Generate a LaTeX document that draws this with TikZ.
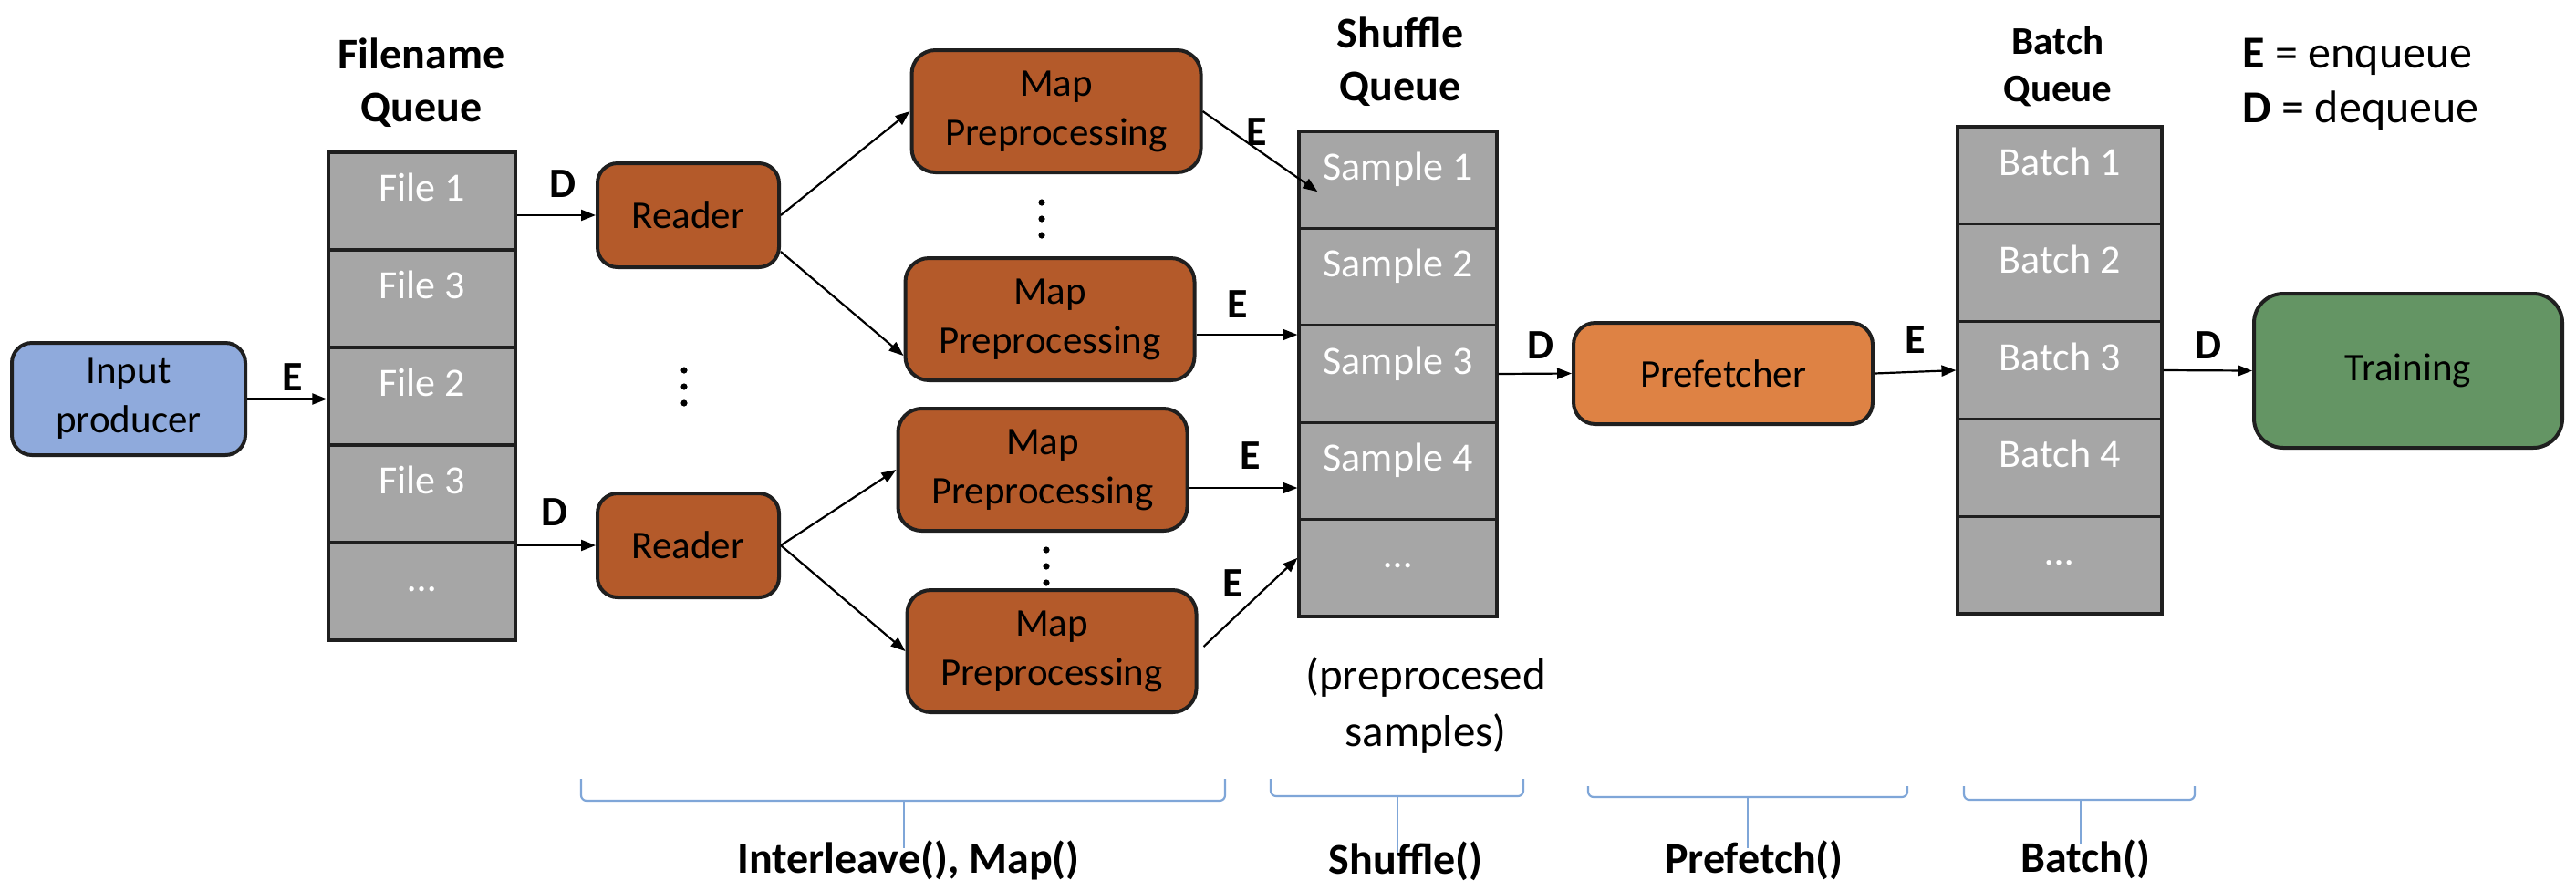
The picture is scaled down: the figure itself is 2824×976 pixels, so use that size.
\documentclass[tikz,border=0pt]{standalone}
\usepackage{fontspec}
\setmainfont{Carlito}
\usetikzlibrary{calc,arrows.meta}
\definecolor{inblue}{HTML}{8FAADC}
\definecolor{rbrown}{HTML}{B45A2A}
\definecolor{porange}{HTML}{DE8244}
\definecolor{tgreen}{HTML}{649564}
\definecolor{qgray}{HTML}{A6A6A6}
\definecolor{bblue}{HTML}{7FA6D8}
\definecolor{edgec}{HTML}{1F1F1F}
\begin{document}
\begin{tikzpicture}[x=0.25pt,y=-0.25pt,
  box/.style={draw=edgec, line width=1pt, rounded corners=5.5pt, align=center, inner sep=0pt, font=\fontsize{10.75}{13.5}\selectfont},
  inbox/.style={box, fill=inblue, minimum width=64pt, minimum height=30.75pt},
  readerbox/.style={box, fill=rbrown, minimum width=49.75pt, minimum height=28.5pt},
  mapbox/.style={box, fill=rbrown, minimum width=79.25pt, minimum height=33.5pt, rounded corners=6.5pt},
  prefbox/.style={box, fill=porange, minimum width=82pt, minimum height=27.75pt, rounded corners=6pt},
  trainbox/.style={box, fill=tgreen, minimum width=84.5pt, minimum height=42.25pt, rounded corners=8pt},
  qcell/.style={draw=edgec, line width=0.8pt, fill=qgray, inner sep=0pt},
  fqcell/.style={qcell, minimum width=51.25pt, minimum height=26.75pt},
  sqcell/.style={qcell, minimum width=54.25pt, minimum height=26.6pt},
  bqcell/.style={qcell, minimum width=56pt, minimum height=26.7pt},
  celltxt/.style={text=white, font=\fontsize{11}{13}\selectfont, inner sep=0pt, anchor=base},
  header/.style={font=\bfseries\fontsize{12}{14.5}\selectfont, align=center, inner sep=0pt},
  edlbl/.style={font=\bfseries\fontsize{11.5}{13}\selectfont, inner sep=0pt},
  legend/.style={font=\fontsize{12.5}{15}\selectfont, inner sep=0pt, anchor=base west},
  bottomlbl/.style={font=\bfseries\fontsize{12}{14}\selectfont, inner sep=0pt, anchor=base},
  arr/.style={draw=black, line width=0.55pt, -{Triangle[length=4pt,width=3pt]}},
  bracel/.style={draw=bblue, line width=0.55pt, rounded corners=1.5pt},
  vdot/.style={fill=black}
]
\fill[white] (0,0) rectangle (2824,976);
\useasboundingbox (0,0) rectangle (2824,976);

% input producer
\node[inbox] (in) at (141,437.5) {Input\\producer};

% filename queue
\node[header] (fqh) at (462,91) {Filename\\Queue};
\node[fqcell] (fq1) at (462.5,220.5) {};
\node[fqcell] (fq2) at (462.5,327.5) {};
\node[fqcell] (fq3) at (462.5,434.5) {};
\node[fqcell] (fq4) at (462.5,541.5) {};
\node[fqcell] (fq5) at (462.5,648.5) {};
\node[celltxt] (fqt1) at (fq1.center) {File 1};
\node[celltxt] (fqt2) at (fq2.center) {File 3};
\node[celltxt] (fqt3) at (fq3.center) {File 2};
\node[celltxt] (fqt4) at (fq4.center) {File 3};
\node[celltxt] (fqt5) at (fq5.center) {…};

% readers
\node[readerbox] (r1) at (754.5,236) {Reader};
\node[readerbox] (r2) at (754.5,598) {Reader};

% map boxes
\node[mapbox] (m1) at (1158,122) {Map\\Preprocessing};
\node[mapbox] (m2) at (1151,350) {Map\\Preprocessing};
\node[mapbox] (m3) at (1143,515) {Map\\Preprocessing};
\node[mapbox] (m4) at (1153,714) {Map\\Preprocessing};

% shuffle queue
\node[header] (sqh) at (1535,68) {Shuffle\\Queue};
\node[sqcell] (sq1) at (1532.5,197.2) {};
\node[sqcell] (sq2) at (1532.5,303.6) {};
\node[sqcell] (sq3) at (1532.5,410) {};
\node[sqcell] (sq4) at (1532.5,516.4) {};
\node[sqcell] (sq5) at (1532.5,622.8) {};
\node[celltxt] (sqt1) at (sq1.center) {Sample 1};
\node[celltxt] (sqt2) at (sq2.center) {Sample 2};
\node[celltxt] (sqt3) at (sq3.center) {Sample 3};
\node[celltxt] (sqt4) at (sq4.center) {Sample 4};
\node[celltxt] (sqt5) at (sq5.center) {…};
\node[font=\fontsize{12.25}{15.5}\selectfont, align=center, inner sep=0pt] (pre) at (1563,774) {(preprocesed\\samples)};

% prefetcher
\node[prefbox] (pf) at (1889,409.5) {Prefetcher};

% batch queue
\node[header, font=\bfseries\fontsize{10.75}{13}\selectfont] (bqh) at (2256,73.5) {Batch\\Queue};
\node[bqcell] (bq1) at (2258,192.4) {};
\node[bqcell] (bq2) at (2258,299.2) {};
\node[bqcell] (bq3) at (2258,406) {};
\node[bqcell] (bq4) at (2258,512.8) {};
\node[bqcell] (bq5) at (2258,619.6) {};
\node[celltxt] (bqt1) at (bq1.center) {Batch 1};
\node[celltxt] (bqt2) at (bq2.center) {Batch 2};
\node[celltxt] (bqt3) at (bq3.center) {Batch 3};
\node[celltxt] (bqt4) at (bq4.center) {Batch 4};
\node[celltxt] (bqt5) at (bq5.center) {…};

% training
\node[trainbox] (tr) at (2640,406.5) {Training};

% legend
\node[legend] (legE) at (2458,74) {\textbf{E} = enqueue};
\node[legend] (legD) at (2458,134) {\textbf{D} = dequeue};

% connectors
\draw[arr] (in.east) -- (in.east -| fq3.west);
\node[edlbl] (e0) at (321,414) {E};
\draw[arr] (r1.west -| fq1.east) -- (r1.west);
\node[edlbl] (d1) at (617,202) {D};
\draw[arr] (r2.west -| fq5.east) -- (r2.west);
\node[edlbl] (d2) at (608,562) {D};

\draw[arr] (r1.east) -- (m1.west);
\draw[arr] ($(r1.east)+(0,40)$) -- ($(m2.west)+(0,40)$);
\draw[arr] (r2.east) -- (m3.west);
\draw[arr] (r2.east) -- (m4.west);

\coordinate (sq1in) at ($(sq1.west)+(22,13)$);
\draw[arr] (m1.east) -- (sq1in);
\node[edlbl] (e1) at (1378,145) {E};
\coordinate (m2out) at ($(m2.east)+(0,17)$);
\draw[arr] (m2out) -- (m2out -| sq3.west);
\node[edlbl] (e2) at (1357,334) {E};
\coordinate (m3out) at ($(m3.east)+(0,20)$);
\draw[arr] (m3out) -- (m3out -| sq4.west);
\node[edlbl] (e3) at (1371,500) {E};
\coordinate (m4out) at ($(m4.east)+(6,-5)$);
\coordinate (sq5in) at ($(sq5.west)+(0,-11)$);
\draw[arr] (m4out) -- (sq5in);
\node[edlbl] (e4) at (1352,640) {E};

\draw[arr] (sq3.east) -- (pf.west);
\node[edlbl] (d3) at (1689,379) {D};
\draw[arr] (pf.east) -- (bq3.west);
\node[edlbl] (e5) at (2100,373) {E};
\draw[arr] (bq3.east) -- (tr.west);
\node[edlbl] (d4) at (2421,379) {D};

% vertical dots
\foreach \yy in {222,240,258} \fill[vdot] (1142,\yy) circle[radius=0.9pt];
\foreach \yy in {406,424,442} \fill[vdot] (750,\yy) circle[radius=0.9pt];
\foreach \yy in {603,621,639} \fill[vdot] (1147,\yy) circle[radius=0.9pt];

% braces and bottom labels
\node[bottomlbl] (b1) at (996,957) {Interleave(), Map()};
\node[bottomlbl] (b2) at (1541,958) {Shuffle()};
\node[bottomlbl] (b3) at (1923,957) {Prefetch()};
\node[bottomlbl] (b4) at (2286,956) {Batch()};
\draw[bracel] (637,854) -- (637,878) -- (1343,878) -- (1343,854);
\draw[bracel] (991,878) -- (991,930);
\draw[bracel] (1393,854) -- (1393,873) -- (1670,873) -- (1670,854);
\draw[bracel] (1532,873) -- (1532,935);
\draw[bracel] (1741,862) -- (1741,874) -- (2091,874) -- (2091,862);
\draw[bracel] (1916,874) -- (1916,930);
\draw[bracel] (2153,862) -- (2153,877) -- (2406,877) -- (2406,862);
\draw[bracel] (2281,877) -- (2281,926);
\end{tikzpicture}
\end{document}
